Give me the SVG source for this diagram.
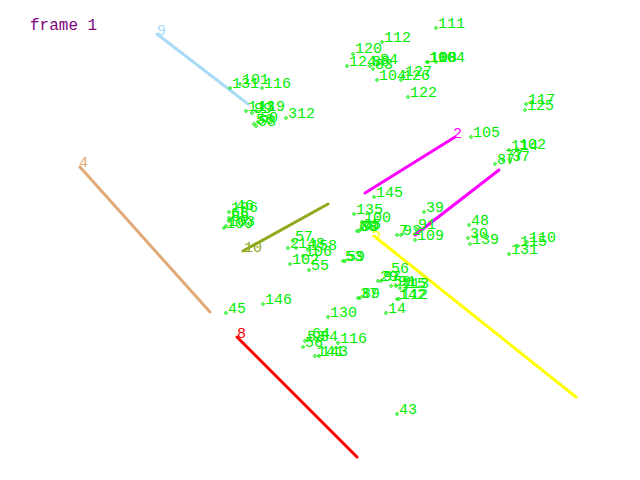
<svg xmlns="http://www.w3.org/2000/svg" width="640" height="480" viewBox="0 0 640 480">
<style>
text{font-family:"Liberation Mono","DejaVu Sans Mono",monospace;font-size:15px}
.p text{fill:#00ee00}
.p circle{fill:none;stroke:#00ee00;stroke-width:1}
.ln{fill:none;stroke-width:3;stroke-linecap:round}
</style>
<rect width="640" height="480" fill="#ffffff"/>
<text x="30" y="30" fill="#800080" style="font-size:16px">frame 1</text>
<g id="connectors">
<g id="line9"><line class="ln" x1="157" y1="34" x2="248" y2="104" stroke="#aadcf8"/><text x="157" y="35" fill="#aadcf8">9</text></g>
<g id="line4"><line class="ln" x1="80" y1="167" x2="210" y2="312" stroke="#e0aa78"/><text x="79" y="167" fill="#e0aa78">4</text></g>
<g id="line2"><line class="ln" x1="365" y1="193" x2="455" y2="137" stroke="#ff00ff"/><text x="453" y="138" fill="#ff00ff">2</text></g>
<g id="line7"><line class="ln" x1="499" y1="170" x2="415" y2="235" stroke="#ff00ff"/></g>
<g id="line10"><line class="ln" x1="328" y1="204" x2="243" y2="251" stroke="#8faa1c"/><text x="244" y="252" fill="#8faa1c">10</text></g>
<g id="line5"><line class="ln" x1="374" y1="236" x2="576" y2="397" stroke="#ffff00"/><text x="372" y="238" fill="#ffff00">5</text></g>
<g id="line8"><line class="ln" x1="237" y1="337" x2="357" y2="457" stroke="#ff0000"/><text x="237" y="338" fill="#ff0000">8</text></g>
</g>
<g id="points" class="p">
<g id="n111"><circle cx="436" cy="28" r="1.3"/><text x="438" y="28">111</text></g>
<g id="n112"><circle cx="382" cy="42" r="1.3"/><text x="384" y="42">112</text></g>
<g id="n120"><circle cx="353" cy="54" r="1.3"/><text x="355" y="53">120</text></g>
<g id="n124"><circle cx="347" cy="66" r="1.3"/><text x="349" y="66">124</text></g>
<g id="n88"><circle cx="370" cy="66" r="1.3"/><text x="372" y="66">88</text></g>
<g id="n84"><circle cx="378" cy="64" r="1.3"/><text x="380" y="64">84</text></g>
<g id="n83"><circle cx="373" cy="69" r="1.3"/><text x="375" y="69">83</text></g>
<g id="n104a"><circle cx="377" cy="80" r="1.3"/><text x="379" y="80">104</text></g>
<g id="n126"><circle cx="401" cy="80" r="1.3"/><text x="403" y="80">126</text></g>
<g id="n127"><circle cx="403" cy="76" r="1.3"/><text x="405" y="76">127</text></g>
<g id="n100a"><circle cx="427" cy="62" r="1.3"/><text x="429" y="62">100</text></g>
<g id="n108a"><circle cx="428" cy="62" r="1.3"/><text x="430" y="62">108</text></g>
<g id="n104b"><circle cx="436" cy="62" r="1.3"/><text x="438" y="62">104</text></g>
<g id="n122"><circle cx="408" cy="97" r="1.3"/><text x="410" y="97">122</text></g>
<g id="n131a"><circle cx="230" cy="88" r="1.3"/><text x="232" y="88">131</text></g>
<g id="n101"><circle cx="240" cy="84" r="1.3"/><text x="242" y="84">101</text></g>
<g id="n116a"><circle cx="262" cy="88" r="1.3"/><text x="264" y="88">116</text></g>
<g id="n113a"><circle cx="246" cy="111" r="1.3"/><text x="248" y="111">113</text></g>
<g id="n119"><circle cx="256" cy="111" r="1.3"/><text x="258" y="111">119</text></g>
<g id="n99"><circle cx="252" cy="113" r="1.3"/><text x="254" y="113">99</text></g>
<g id="n56a"><circle cx="254" cy="124" r="1.3"/><text x="256" y="124">56</text></g>
<g id="n58"><circle cx="256" cy="126" r="1.3"/><text x="258" y="126">58</text></g>
<g id="n50"><circle cx="258" cy="122" r="1.3"/><text x="260" y="122">50</text></g>
<g id="n312"><circle cx="286" cy="118" r="1.3"/><text x="288" y="118">312</text></g>
<g id="n106a"><circle cx="229" cy="212" r="1.3"/><text x="231" y="212">106</text></g>
<g id="n46"><circle cx="234" cy="210" r="1.3"/><text x="236" y="210">46</text></g>
<g id="n66"><circle cx="229" cy="218" r="1.3"/><text x="231" y="218">66</text></g>
<g id="n88b"><circle cx="229" cy="221" r="1.3"/><text x="231" y="221">88</text></g>
<g id="n103"><circle cx="226" cy="226" r="1.3"/><text x="228" y="226">103</text></g>
<g id="n100b"><circle cx="224" cy="228" r="1.3"/><text x="226" y="228">100</text></g>
<g id="n57"><circle cx="293" cy="241" r="1.3"/><text x="295" y="241">57</text></g>
<g id="n2"><circle cx="288" cy="248" r="1.3"/><text x="290" y="248">2</text></g>
<g id="n148"><circle cx="296" cy="248" r="1.3"/><text x="298" y="248">148</text></g>
<g id="n158"><circle cx="308" cy="250" r="1.3"/><text x="310" y="250">158</text></g>
<g id="n106b"><circle cx="303" cy="256" r="1.3"/><text x="305" y="256">106</text></g>
<g id="n102a"><circle cx="290" cy="264" r="1.3"/><text x="292" y="264">102</text></g>
<g id="n55"><circle cx="309" cy="270" r="1.3"/><text x="311" y="270">55</text></g>
<g id="n53a"><circle cx="343" cy="261" r="1.3"/><text x="345" y="261">53</text></g>
<g id="n59a"><circle cx="345" cy="261" r="1.3"/><text x="347" y="261">59</text></g>
<g id="n145"><circle cx="374" cy="197" r="1.3"/><text x="376" y="197">145</text></g>
<g id="n135"><circle cx="354" cy="214" r="1.3"/><text x="356" y="214">135</text></g>
<g id="n100c"><circle cx="362" cy="222" r="1.3"/><text x="364" y="222">100</text></g>
<g id="n60"><circle cx="357" cy="231" r="1.3"/><text x="359" y="231">60</text></g>
<g id="n80"><circle cx="359" cy="231" r="1.3"/><text x="361" y="231">80</text></g>
<g id="n65"><circle cx="361" cy="229" r="1.3"/><text x="363" y="229">65</text></g>
<g id="n7"><circle cx="397" cy="235" r="1.3"/><text x="399" y="235">7</text></g>
<g id="n92"><circle cx="401" cy="235" r="1.3"/><text x="403" y="235">92</text></g>
<g id="n91a"><circle cx="416" cy="229" r="1.3"/><text x="418" y="229">91</text></g>
<g id="n39"><circle cx="424" cy="212" r="1.3"/><text x="426" y="212">39</text></g>
<g id="n109"><circle cx="415" cy="240" r="1.3"/><text x="417" y="240">109</text></g>
<g id="n48"><circle cx="469" cy="225" r="1.3"/><text x="471" y="225">48</text></g>
<g id="n30"><circle cx="468" cy="238" r="1.3"/><text x="470" y="238">30</text></g>
<g id="n139"><circle cx="470" cy="244" r="1.3"/><text x="472" y="244">139</text></g>
<g id="n110"><circle cx="527" cy="242" r="1.3"/><text x="529" y="242">110</text></g>
<g id="n115"><circle cx="518" cy="246" r="1.3"/><text x="520" y="246">115</text></g>
<g id="n131b"><circle cx="509" cy="254" r="1.3"/><text x="511" y="254">131</text></g>
<g id="n117"><circle cx="526" cy="104" r="1.3"/><text x="528" y="104">117</text></g>
<g id="n125"><circle cx="525" cy="110" r="1.3"/><text x="527" y="110">125</text></g>
<g id="n105"><circle cx="471" cy="137" r="1.3"/><text x="473" y="137">105</text></g>
<g id="n114"><circle cx="509" cy="150" r="1.3"/><text x="511" y="150">114</text></g>
<g id="n102b"><circle cx="517" cy="149" r="1.3"/><text x="519" y="149">102</text></g>
<g id="n87"><circle cx="495" cy="164" r="1.3"/><text x="497" y="164">87</text></g>
<g id="n77"><circle cx="503" cy="160" r="1.3"/><text x="505" y="160">77</text></g>
<g id="n37a"><circle cx="510" cy="161" r="1.3"/><text x="512" y="161">37</text></g>
<g id="n56b"><circle cx="389" cy="273" r="1.3"/><text x="391" y="273">56</text></g>
<g id="n29"><circle cx="378" cy="281" r="1.3"/><text x="380" y="281">29</text></g>
<g id="n97"><circle cx="381" cy="281" r="1.3"/><text x="383" y="281">97</text></g>
<g id="n59b"><circle cx="391" cy="286" r="1.3"/><text x="393" y="286">59</text></g>
<g id="n91b"><circle cx="396" cy="286" r="1.3"/><text x="398" y="286">91</text></g>
<g id="n15"><circle cx="406" cy="288" r="1.3"/><text x="408" y="288">15</text></g>
<g id="n113b"><circle cx="400" cy="288" r="1.3"/><text x="402" y="288">113</text></g>
<g id="n142"><circle cx="397" cy="299" r="1.3"/><text x="399" y="299">142</text></g>
<g id="n112b"><circle cx="399" cy="299" r="1.3"/><text x="401" y="299">112</text></g>
<g id="n37b"><circle cx="358" cy="298" r="1.3"/><text x="360" y="298">37</text></g>
<g id="n89"><circle cx="360" cy="298" r="1.3"/><text x="362" y="298">89</text></g>
<g id="n14"><circle cx="386" cy="313" r="1.3"/><text x="388" y="313">14</text></g>
<g id="n146"><circle cx="263" cy="304" r="1.3"/><text x="265" y="304">146</text></g>
<g id="n45"><circle cx="226" cy="313" r="1.3"/><text x="228" y="313">45</text></g>
<g id="n130"><circle cx="328" cy="317" r="1.3"/><text x="330" y="317">130</text></g>
<g id="n116b"><circle cx="338" cy="343" r="1.3"/><text x="340" y="343">116</text></g>
<g id="n53b"><circle cx="305" cy="341" r="1.3"/><text x="307" y="341">53</text></g>
<g id="n64"><circle cx="310" cy="338" r="1.3"/><text x="312" y="338">64</text></g>
<g id="n34"><circle cx="318" cy="341" r="1.3"/><text x="320" y="341">34</text></g>
<g id="n56c"><circle cx="303" cy="347" r="1.3"/><text x="305" y="347">56</text></g>
<g id="n141"><circle cx="315" cy="356" r="1.3"/><text x="317" y="356">141</text></g>
<g id="n143"><circle cx="319" cy="356" r="1.3"/><text x="321" y="356">143</text></g>
<g id="n43"><circle cx="397" cy="414" r="1.3"/><text x="399" y="414">43</text></g>
</g>
</svg>
